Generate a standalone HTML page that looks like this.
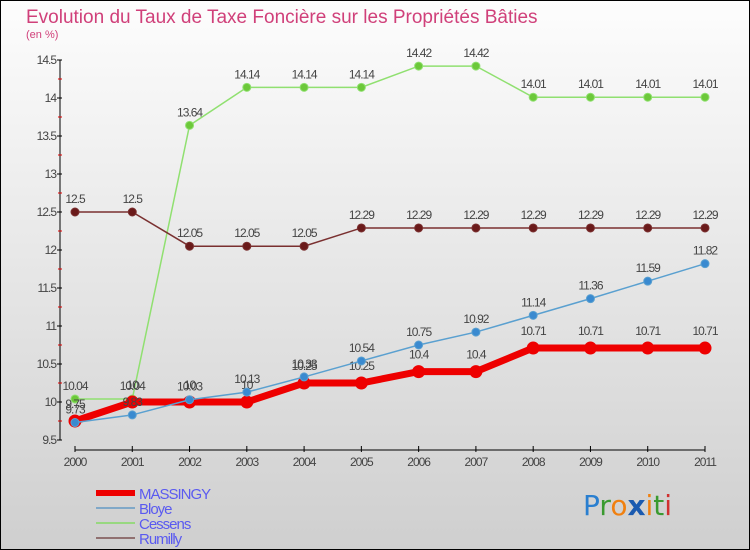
<!DOCTYPE html>
<html><head><meta charset="utf-8"><style>
body{margin:0}
#c{width:750px;height:550px;position:relative;box-sizing:border-box;border:1px solid #000;background:linear-gradient(#fdfdfd,#cfcfcf);font-family:"Liberation Sans",sans-serif;overflow:hidden}
</style></head><body>
<div id="c">
<svg width="750" height="550" style="position:absolute;left:-1px;top:-1px">
<text x="26" y="23" font-size="19" fill="#d0407a">Evolution du Taux de Taxe Foncière sur les Propriétés Bâties</text>
<text x="26" y="38" font-size="11" fill="#d0407a">(en %)</text>
<g id="axes"></g><g id="series"></g><g id="legend"></g>
<text x="583" y="515" font-size="28" font-family="DejaVu Sans,sans-serif"><tspan fill="#2a7fd0">P</tspan><tspan fill="#3a9a30">r</tspan><tspan fill="#f08010">o</tspan><tspan fill="#1a5ab0" font-weight="bold">x</tspan><tspan fill="#f08010">i</tspan><tspan fill="#3a9a30">t</tspan><tspan fill="#d03030">i</tspan></text>
</svg>
</div>
<script>
const years=[2000,2001,2002,2003,2004,2005,2006,2007,2008,2009,2010,2011];
const yTicks=[9.5,10,10.5,11,11.5,12,12.5,13,13.5,14,14.5];
const massingy=[9.75,10,10,10,10.25,10.25,10.4,10.4,10.71,10.71,10.71,10.71];
const bloye=[9.73,9.83,10.03,10.13,10.33,10.54,10.75,10.92,11.14,11.36,11.59,11.82];
const cessens=[10.04,10.04,13.64,14.14,14.14,14.14,14.42,14.42,14.01,14.01,14.01,14.01];
const rumilly=[12.5,12.5,12.05,12.05,12.05,12.29,12.29,12.29,12.29,12.29,12.29,12.29];
const NS="http://www.w3.org/2000/svg";
const X=i=>75+i*(630/11), Y=v=>440-(v-9.5)*76;
function mk(t,a,p){const e=document.createElementNS(NS,t);for(const k in a)e.setAttribute(k,a[k]);p.appendChild(e);return e;}
const ax=document.getElementById('axes');
const yl=mk('line',{x1:60,y1:60,x2:60,y2:440,stroke:'#000'},ax);


const xl=mk('line',{x1:75,y1:450,x2:705,y2:450,stroke:'#000'},ax);


yTicks.forEach((v,i)=>{
  mk('line',{x1:57,y1:Y(v),x2:62,y2:Y(v),stroke:'#000'},ax);
  if(i<yTicks.length-1)mk('line',{x1:58,y1:Y(v+0.25),x2:62,y2:Y(v+0.25),stroke:'#d00'},ax);
  const t=mk('text',{x:56,y:Y(v)+4,'text-anchor':'end','font-size':12,fill:'#444','letter-spacing':'-1'},ax);
  t.textContent=String(v);
  
  
});
years.forEach((y,i)=>{
  mk('line',{x1:X(i),y1:446,x2:X(i),y2:452,stroke:'#000'},ax);
  const t=mk('text',{x:X(i),y:466,'text-anchor':'middle','font-size':12,fill:'#444','letter-spacing':'-1'},ax);
  t.textContent=y;
  
  
});
const sg=document.getElementById('series');
function draw(name,vals,col,dot,w,r,dy){
  const g=mk('g',{},sg);
  
  
  mk('polyline',{points:vals.map((v,i)=>X(i)+','+Y(v)).join(' '),fill:'none',stroke:col,'stroke-width':w},g);
  vals.forEach((v,i)=>{
    const c=mk('circle',{cx:X(i),cy:Y(v),r:r,fill:dot,stroke:col,'stroke-width':1},g);
    
    
    const t=mk('text',{x:X(i),y:Y(v)+dy,'text-anchor':'middle','font-size':12,fill:'#444','letter-spacing':'-1'},g);
    t.textContent=String(v);
    
    
  });
}
draw('cessens',cessens,'#90e070','#6cc83a',1.5,4,-9);
draw('rumilly',rumilly,'#7a3030','#6a1a1a',1.5,4,-9);
draw('massingy',massingy,'#ee0000','#ee0000',7,6,-13);
draw('bloye',bloye,'#5aa0d0','#3a8ad0',1.5,4,-9);
const lg=document.getElementById('legend');
[['MASSINGY','#ee0000',6],['Bloye','#80a8c8',2],['Cessens','#98d880',2],['Rumilly','#907070',2]].forEach((d,i)=>{
  const g=mk('g',{},lg);
  
  
  const y=493+i*15;
  mk('line',{x1:96,y1:y,x2:135,y2:y,stroke:d[1],'stroke-width':d[2]},g);
  const t=mk('text',{x:139,y:y+6,'font-size':15,fill:'#5a5af0','letter-spacing':'-1'},g);
  t.textContent=d[0];
});
</script>
</body></html>
